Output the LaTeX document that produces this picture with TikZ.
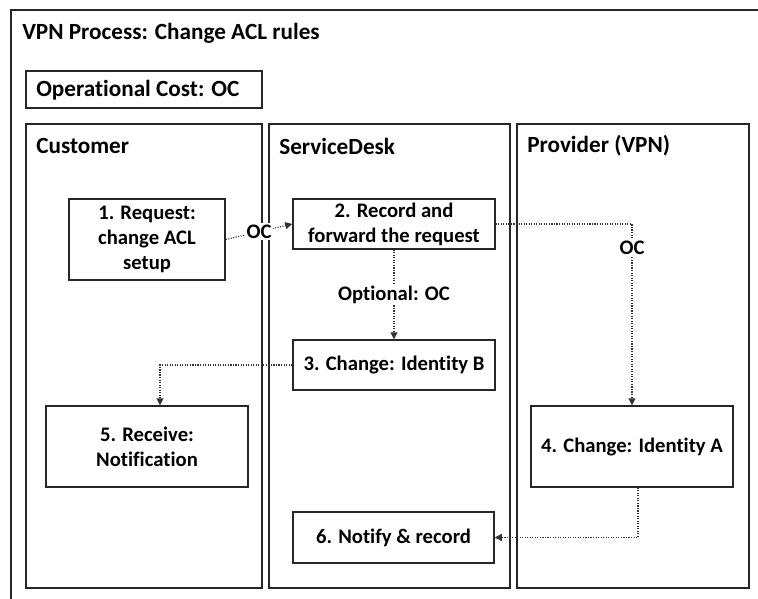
\documentclass[tikz,border=0pt]{standalone}
\usepackage{fontspec}
\setmainfont{Carlito}[Ligatures=NoCommon]
\usetikzlibrary{arrows.meta}

\begin{document}
\begin{tikzpicture}[x=0.025cm, y=-0.025cm,
    font=\fontsize{14.7}{17.8}\selectfont\bfseries,
    heading/.style={anchor=west, inner sep=0pt, font=\fontsize{16.5}{19}\selectfont\bfseries},
    lane/.style={draw=black!85, line width=1pt},
    stepbox/.style={draw=black!85, line width=1pt, align=center, inner sep=0pt},
    flow/.style={draw=black!80, densely dotted, line width=0.8pt, -{Triangle[length=5pt, width=5pt]}},
    cost/.style={fill=white, inner sep=1pt}]
  \path[use as bounding box] (0,0) rectangle (758,599);

  % outer frame runs off the page on the right and bottom
  \draw[lane] (11,10) rectangle (780,620);
  \node[heading] (title) at (22,33) {VPN Process: Change ACL rules};
  \draw[lane] (26,71) rectangle (262,108);
  \node[heading] (legend) at (36,90) {Operational Cost: OC};

  % swim lanes
  \foreach \l/\r/\who [count=\i] in {26/262/Customer, 269/510/ServiceDesk, 517/749/Provider (VPN)} {
    \draw[lane] (\l,124) rectangle (\r,588);
    \node[heading] (lane\i) at (\l+10,146) {\who};
  }

  \node[stepbox, minimum width=3.9cm, minimum height=2.025cm] (n1) at (147,239.5) {1. Request:\\change ACL\\setup};
  \node[stepbox, minimum width=5.05cm, minimum height=1.25cm] (n2) at (394,224) {2. Record and\\forward the request};
  \node[stepbox, minimum width=5.05cm, minimum height=1.25cm] (n3) at (394,365) {3. Change: Identity B};
  \node[stepbox, minimum width=5.05cm, minimum height=2.025cm] (n4) at (632,446.5) {4. Change: Identity A};
  \node[stepbox, minimum width=5.05cm, minimum height=2.025cm] (n5) at (147,446.5) {5. Receive:\\Notification};
  \node[stepbox, minimum width=5.025cm, minimum height=1.275cm] (n6) at (393.5,537.5) {6. Notify \& record};

  \draw[flow] (n1.east) -- node[cost] {OC} (n2.west);
  \draw[flow] (n2.east) -| node[cost, pos=0.565] {OC} (n4.north);
  \draw[flow] (n2.south) -- node[cost] {Optional: OC} (n3.north);
  \draw[flow] (n3.west) -| ([xshift=0.325cm]n5.north);
  \draw[flow] ([xshift=0.15cm]n4.south) |- (n6.east);
\end{tikzpicture}
\end{document}
